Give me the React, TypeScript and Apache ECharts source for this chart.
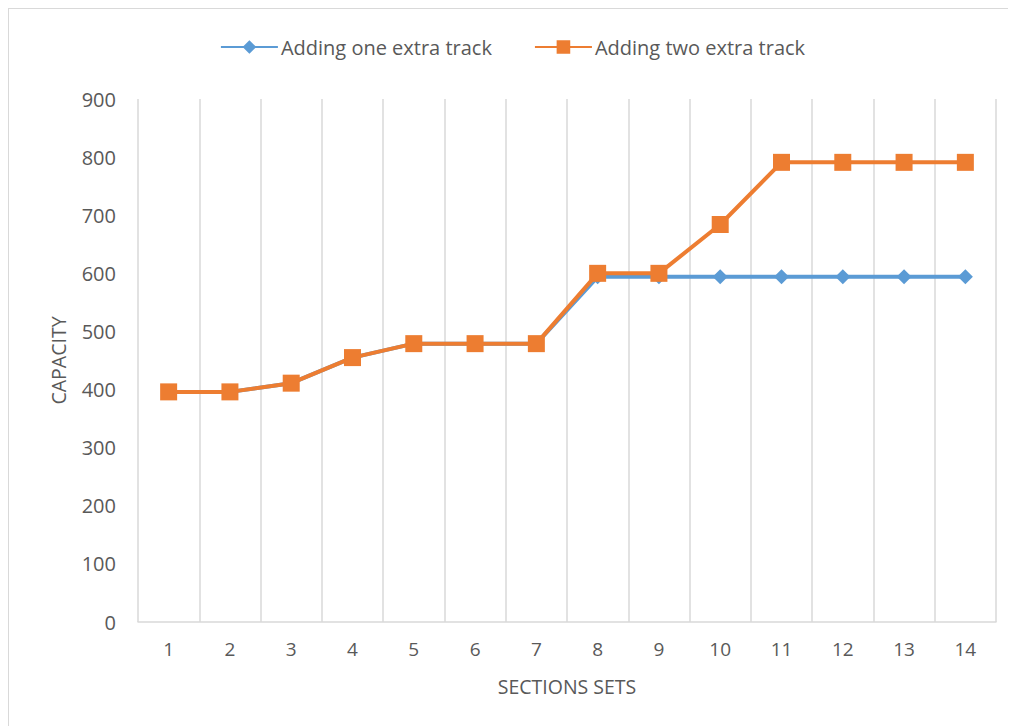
import React, { useEffect, useRef } from "react";
import * as echarts from "echarts";

const sections = ["1", "2", "3", "4", "5", "6", "7", "8", "9", "10", "11", "12", "13", "14"];
const oneExtraTrack = [396, 396, 411, 455, 479, 479, 479, 594, 594, 594, 594, 594, 594, 594];
const twoExtraTrack = [396, 396, 411, 455, 479, 479, 479, 600, 600, 684, 791, 791, 791, 791];
const seriesNames = ["Adding one extra track", "Adding two extra track"];

const FONT = "'Open Sans', 'Noto Sans', sans-serif";
const TEXT = "#595959";
const GRID = "#d9d9d9";

export default function App() {
  const ref = useRef<HTMLDivElement>(null);

  useEffect(() => {
    if (!ref.current) return;
    const chart = echarts.init(ref.current, undefined, { renderer: "svg" });
    chart.setOption({
      animation: false,
      backgroundColor: "#ffffff",
      textStyle: { fontFamily: FONT },
      legend: {
        top: 23,
        left: "center",
        itemWidth: 57,
        itemHeight: 17,
        itemGap: 42,
        textStyle: { color: TEXT, fontSize: 20, fontFamily: FONT, padding: [0, 0, 0, -2] },
        data: seriesNames,
      },
      grid: { left: 129, right: 20, top: 90, bottom: 104 },
      xAxis: {
        type: "category",
        data: sections,
        boundaryGap: true,
        name: "SECTIONS SETS",
        nameLocation: "middle",
        nameGap: 54,
        nameTextStyle: { color: TEXT, fontSize: 19.5, fontFamily: FONT },
        axisLine: { lineStyle: { color: GRID, width: 1.5 } },
        axisTick: { show: false },
        axisLabel: { color: TEXT, fontSize: 19, margin: 17, fontFamily: FONT },
        splitLine: { show: true, interval: 0, lineStyle: { color: GRID, width: 1.5 } },
      },
      yAxis: {
        type: "value",
        min: 0,
        max: 900,
        interval: 100,
        name: "CAPACITY",
        nameLocation: "middle",
        nameRotate: 90,
        nameGap: 70,
        nameTextStyle: { color: TEXT, fontSize: 19.5, fontFamily: FONT },
        axisLine: { show: false },
        axisTick: { show: false },
        splitLine: { show: false },
        axisLabel: { color: TEXT, fontSize: 20, margin: 22, fontFamily: FONT },
      },
      series: [
        {
          name: seriesNames[0],
          type: "line",
          data: oneExtraTrack,
          symbol: "diamond",
          symbolSize: 15,
          color: "#5B9BD5",
          lineStyle: { width: 4, color: "#5B9BD5" },
          itemStyle: { color: "#5B9BD5" },
          z: 2,
        },
        {
          name: seriesNames[1],
          type: "line",
          data: twoExtraTrack,
          symbol: "rect",
          symbolSize: 17,
          color: "#ED7D31",
          lineStyle: { width: 4, color: "#ED7D31" },
          itemStyle: { color: "#ED7D31" },
          z: 3,
        },
      ],
    });
    return () => chart.dispose();
  }, []);

  return (
    <div
      style={{
        width: 1008,
        height: 718,
        boxSizing: "border-box",
        borderLeft: `1px solid ${GRID}`,
        borderTop: `1px solid ${GRID}`,
        background: "#fff",
      }}
    >
      <div ref={ref} style={{ width: 1007, height: 717 }} />
    </div>
  );
}
